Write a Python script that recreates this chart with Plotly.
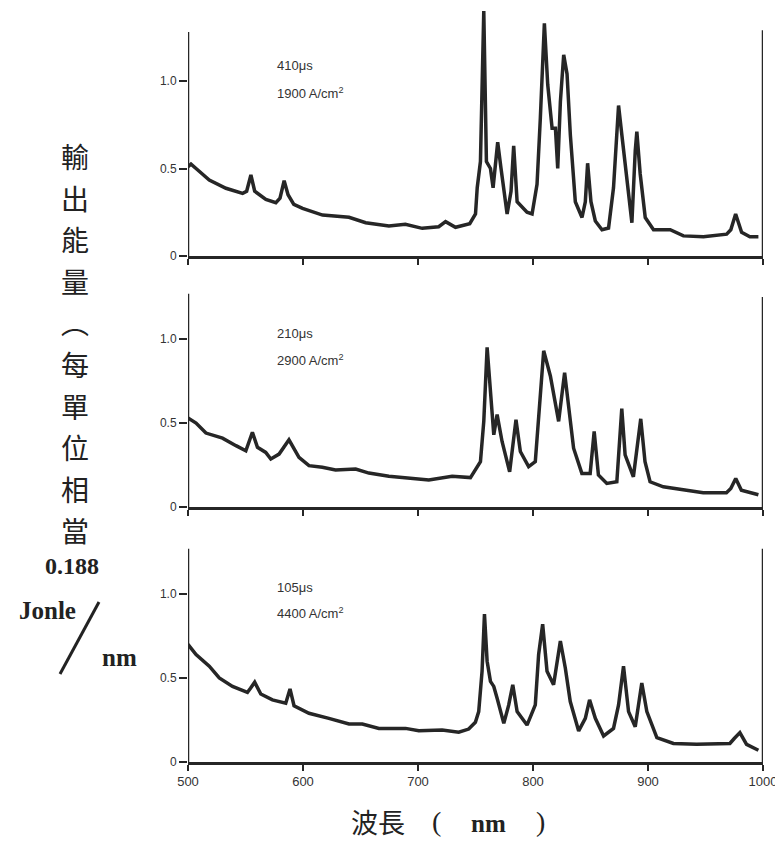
import plotly.graph_objects as go

# the page adds an 8 px body margin, so the figure is drawn 8 px smaller on each side
OFF = 8
W, H = 783 - 2 * OFF, 848 - 2 * OFF

# ---------------- data ----------------
wl_410 = [500, 502.6, 507, 518.5, 533, 547.5, 551, 554.7, 558, 567.7, 576.4, 580, 583.6, 587, 592,
          599.6, 617, 640, 654.5, 674.7, 689, 703.7, 718, 724, 732.6, 745, 750, 751.5, 754.3, 757.2,
          759.5, 763, 765.3, 769.3, 772.2, 777.5, 780.9, 783.2, 786.2, 794.8, 799.2, 803.5, 806.4,
          809.9, 812.8, 816.6, 819.5, 821.5, 823.8, 826.7, 829.6, 832.5, 836.8, 842.6, 845.5, 847.5,
          850.4, 854.2, 860, 865.7, 870, 874.4, 877.3, 881.6, 886, 888.9, 890.3, 893.2, 897.6, 904.8,
          919.3, 930.8, 948.2, 968.4, 972, 976.2, 981.4, 988.6, 996]
val_410 = [0.51, 0.525, 0.50, 0.434, 0.387, 0.358, 0.37, 0.463, 0.37, 0.324, 0.305, 0.33, 0.43, 0.35, 0.295,
           0.272, 0.234, 0.221, 0.19, 0.171, 0.181, 0.158, 0.167, 0.196, 0.164, 0.185, 0.24, 0.39, 0.54, 1.40,
           0.54, 0.50, 0.39, 0.65, 0.50, 0.24, 0.37, 0.63, 0.31, 0.25, 0.24, 0.41, 0.79,
           1.33, 0.98, 0.73, 0.73, 0.50, 0.88, 1.15, 1.04, 0.69, 0.31, 0.22, 0.31, 0.53,
           0.31, 0.20, 0.15, 0.16, 0.39, 0.86, 0.69, 0.46, 0.19, 0.60, 0.71, 0.47, 0.22, 0.15,
           0.15, 0.115, 0.11, 0.125, 0.15, 0.24, 0.135, 0.11, 0.11]

wl_210 = [500, 502.6, 507, 515.6, 530, 541.7, 550.3, 556, 560.4, 567.6, 572, 579.2, 587.8, 596.5, 605.2,
          616.8, 628.3, 645.8, 657.3, 674.7, 692, 709.4, 729.7, 745.6, 754.3, 757.2, 760.1, 763, 765.9,
          768.8, 773.1, 779.7, 785.2, 789, 796.2, 802, 804.9, 809.3, 815.1, 822.3, 827.5, 830.9, 835.3,
          842.5, 849.7, 853.2, 856.9, 864.2, 872.9, 877.2, 880.1, 887.3, 893.7, 897.4, 901.8, 913.3,
          933.5, 948, 968.2, 972, 976.3, 981.2, 996]
val_210 = [0.53, 0.52, 0.50, 0.44, 0.41, 0.365, 0.335, 0.445, 0.355, 0.325, 0.286, 0.315, 0.40, 0.296, 0.246,
           0.236, 0.22, 0.226, 0.202, 0.183, 0.171, 0.161, 0.183, 0.175, 0.27, 0.51, 0.95, 0.70, 0.43,
           0.55, 0.39, 0.21, 0.52, 0.33, 0.24, 0.27, 0.51, 0.93, 0.78, 0.51, 0.80, 0.61, 0.35,
           0.20, 0.20, 0.45, 0.19, 0.14, 0.15, 0.585, 0.31, 0.18, 0.525, 0.27, 0.15, 0.12,
           0.10, 0.085, 0.085, 0.11, 0.17, 0.10, 0.073]

wl_105 = [500, 502.6, 507, 518.5, 527.2, 538.7, 551.7, 554.5, 558, 563.3, 573.4, 585, 588.7, 592.2, 605.2,
          622.5, 640, 651.6, 666, 689.2, 700.7, 721, 735.4, 744.1, 749.9, 752.8, 755.7, 757.8, 760.1,
          763, 765.9, 768.8, 774.6, 778.9, 782.4, 786.2, 794.8, 802, 804.9, 808.4, 812.2, 817.9, 823.8,
          828.1, 832.4, 839.7, 845.5, 849.2, 854.2, 861.4, 870, 874.4, 878.7, 883.1, 888.9, 894.6, 899,
          907.7, 922.1, 942.3, 971.2, 975, 979.9, 985.7, 996]
val_105 = [0.70, 0.68, 0.64, 0.57, 0.50, 0.45, 0.415, 0.44, 0.475, 0.405, 0.37, 0.35, 0.435, 0.335, 0.29,
           0.26, 0.226, 0.226, 0.20, 0.20, 0.186, 0.19, 0.177, 0.196, 0.236, 0.30, 0.54, 0.88, 0.60,
           0.48, 0.45, 0.38, 0.23, 0.34, 0.46, 0.30, 0.22, 0.34, 0.64, 0.82, 0.54, 0.46, 0.72,
           0.56, 0.36, 0.185, 0.26, 0.37, 0.26, 0.155, 0.20, 0.34, 0.57, 0.30, 0.21, 0.47, 0.30,
           0.145, 0.11, 0.105, 0.11, 0.14, 0.175, 0.105, 0.07]

panel_labels = [("410μs", "1900 A/cm<sup>2</sup>"),
                ("210μs", "2900 A/cm<sup>2</sup>"),
                ("105μs", "4400 A/cm<sup>2</sup>")]
x_ticks = [500, 600, 700, 800, 900, 1000]
y_ticks = [0, 0.5, 1.0]
y_ticktext = ["0", "0.5", "1.0"]
ylabel_chars = ["輸", "出", "能", "量", "︵", "每", "單", "位", "相", "當"]

# ---------------- layout helpers (screen pixels -> paper) ----------------
def px(x):
    return (x - OFF) / W

def py(y):
    return 1 - (y - OFF) / H

INK = "#262626"
YMAX = 1.45
x_dom = [px(188), px(763)]
# (zero pixel, pixels per unit)
panels = [(256, 175), (507, 168), (762, 168)]
axis_tops = [(1.28, 1.29), (1.27, 1.25), (1.27, 1.27)]
label_y = [(65, 93), (333, 360), (587, 613)]

series = [(wl_410, val_410), (wl_210, val_210), (wl_105, val_105)]

fig = go.Figure()
shapes = []
annotations = []

for i, ((wl, val), (z, s)) in enumerate(zip(series, panels)):
    n = "" if i == 0 else str(i + 1)
    top = z - YMAX * s
    ydom = [py(z), min(1.0, py(top))]
    yrange_top = YMAX if py(top) <= 1.0 else (z - OFF) / s
    fig.add_trace(go.Scatter(x=wl, y=val, mode="lines",
                             line=dict(color=INK, width=3.5),
                             xaxis="x" + n, yaxis="y" + n,
                             showlegend=False, hoverinfo="skip", cliponaxis=False))
    fig.layout["xaxis" + n] = dict(
        domain=x_dom, range=[500, 1000], anchor="y" + n, automargin=False,
        showline=True, linecolor=INK, linewidth=2.5,
        ticks="outside", ticklen=6, tickwidth=2, tickcolor=INK,
        tickvals=x_ticks, showticklabels=(i == 2), ticklabeloverflow="allow",
        tickfont=dict(family="Liberation Sans Narrow, Arial Narrow, Liberation Sans", size=13, color="#333"),
        showgrid=False, zeroline=False,
    )
    fig.layout["yaxis" + n] = dict(
        domain=ydom, range=[0, yrange_top], anchor="x" + n, automargin=False,
        showline=False, ticks="outside", ticklen=8, tickwidth=2, tickcolor=INK,
        tickvals=y_ticks, ticktext=y_ticktext,
        tickfont=dict(family="Liberation Sans", size=12, color="#333"),
        showgrid=False, zeroline=False,
    )
    ltop, rtop = axis_tops[i]
    shapes.append(dict(type="line", xref="x" + n, yref="y" + n, x0=500, x1=500, y0=0, y1=ltop,
                       line=dict(color=INK, width=2.5)))
    shapes.append(dict(type="line", xref="x" + n, yref="y" + n, x0=1000, x1=1000, y0=0, y1=rtop,
                       line=dict(color=INK, width=2.5)))
    t1, t2 = panel_labels[i]
    for txt, yy in zip((t1, t2), label_y[i]):
        annotations.append(dict(text=txt, xref="paper", yref="paper", x=px(275), y=py(yy),
                                xanchor="left", yanchor="middle", showarrow=False,
                                font=dict(family="Liberation Sans", size=13, color="#333")))

# vertical y-axis title (Chinese characters)
for k, ch in enumerate(ylabel_chars):
    annotations.append(dict(text=ch, xref="paper", yref="paper", x=px(75), y=py(156 + k * 41.6),
                            xanchor="center", yanchor="middle", showarrow=False,
                            font=dict(family="Noto Sans CJK TC", size=28, color="#222")))
annotations.append(dict(text="<b>0.188</b>", xref="paper", yref="paper", x=px(72), y=py(566),
                        xanchor="center", yanchor="middle", showarrow=False,
                        font=dict(family="Liberation Serif", size=24, color="#222")))
annotations.append(dict(text="<b>Jonle</b>", xref="paper", yref="paper", x=px(47), y=py(610),
                        xanchor="center", yanchor="middle", showarrow=False,
                        font=dict(family="Liberation Serif", size=25, color="#222")))
annotations.append(dict(text="<b>nm</b>", xref="paper", yref="paper", x=px(120), y=py(657),
                        xanchor="center", yanchor="middle", showarrow=False,
                        font=dict(family="Liberation Serif", size=25, color="#222")))
shapes.append(dict(type="line", xref="paper", yref="paper", x0=px(60), y0=py(674), x1=px(99), y1=py(602),
                   line=dict(color="#222", width=3)))

# x-axis title
annotations.append(dict(text="波長", xref="paper", yref="paper", x=px(378), y=py(821),
                        xanchor="center", yanchor="middle", showarrow=False,
                        font=dict(family="Noto Sans CJK TC", size=27, color="#222")))
annotations.append(dict(text="(", xref="paper", yref="paper", x=px(437), y=py(821),
                        xanchor="center", yanchor="middle", showarrow=False,
                        font=dict(family="Liberation Serif", size=28, color="#222")))
annotations.append(dict(text="<b>nm</b>", xref="paper", yref="paper", x=px(488), y=py(823),
                        xanchor="center", yanchor="middle", showarrow=False,
                        font=dict(family="Liberation Serif", size=25, color="#222")))
annotations.append(dict(text=")", xref="paper", yref="paper", x=px(540), y=py(821),
                        xanchor="center", yanchor="middle", showarrow=False,
                        font=dict(family="Liberation Serif", size=28, color="#222")))

fig.update_layout(width=W, height=H, margin=dict(l=0, r=0, t=0, b=0, autoexpand=False),
                  paper_bgcolor="white", plot_bgcolor="white",
                  shapes=shapes, annotations=annotations)

fig.write_html("out.html")
